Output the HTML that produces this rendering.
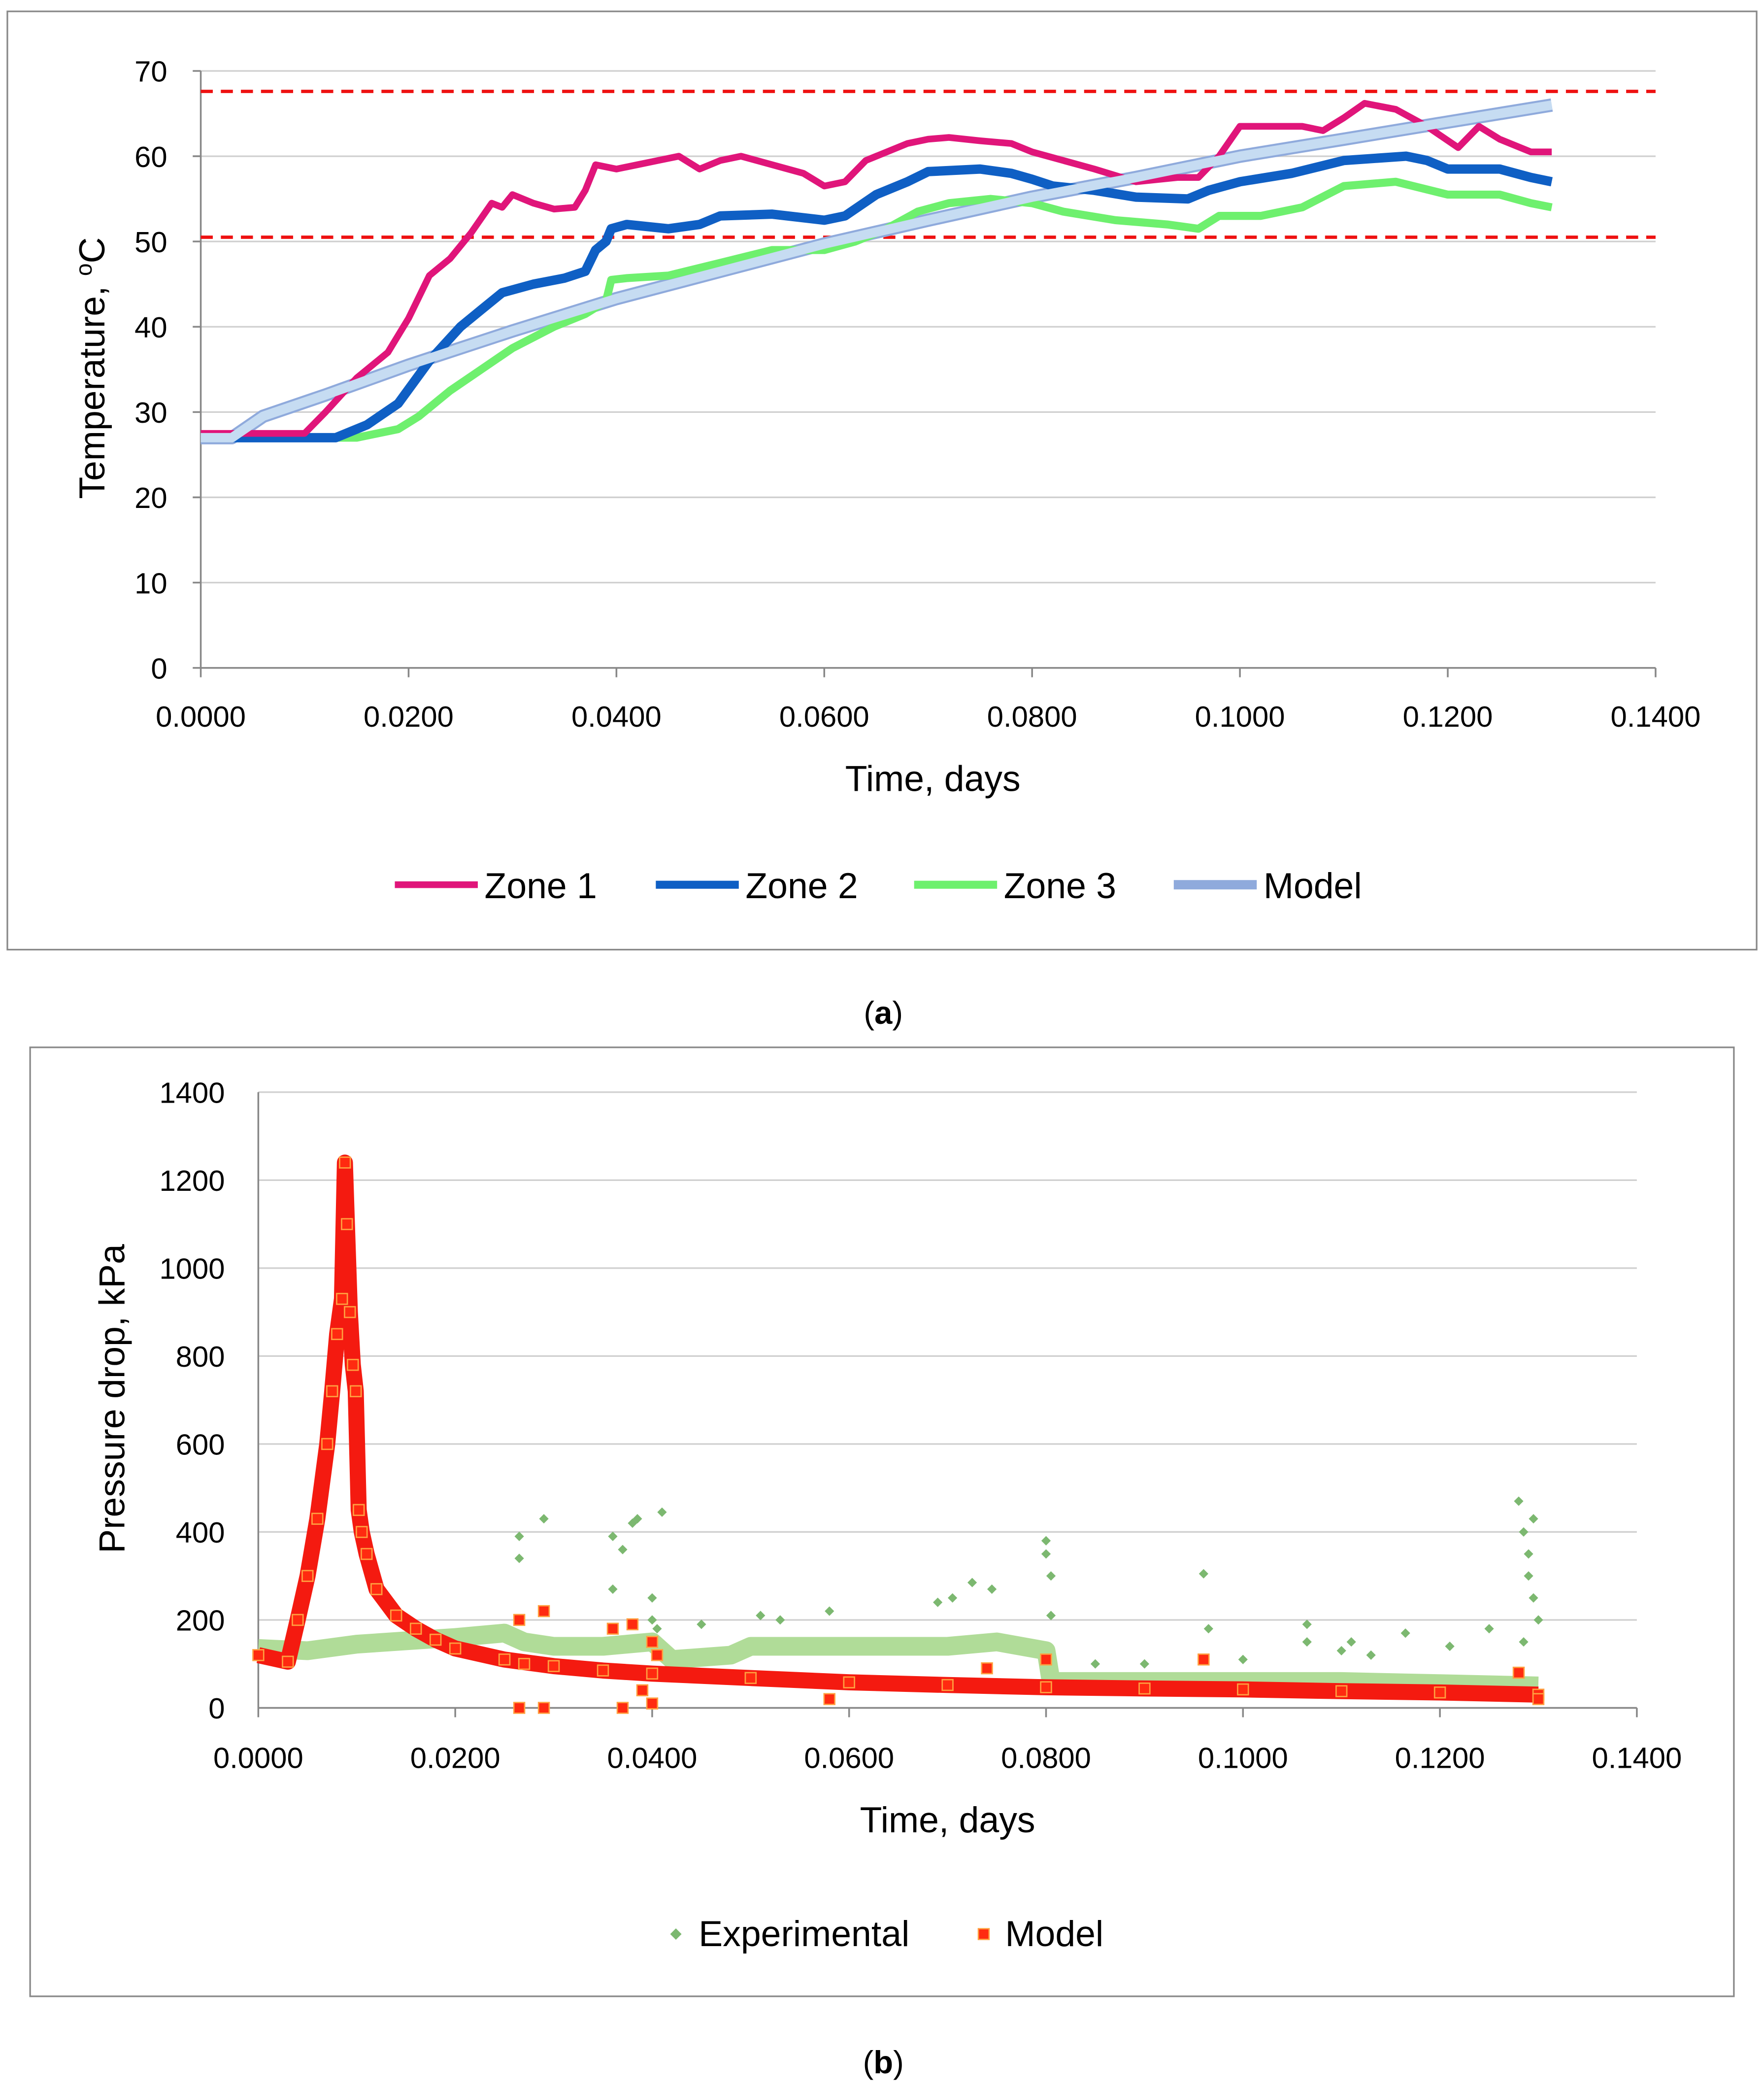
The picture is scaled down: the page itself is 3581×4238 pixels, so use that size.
<!DOCTYPE html>
<html><head><meta charset="utf-8"><style>
html,body{margin:0;padding:0;background:#fff;}
svg{display:block;}
text{font-family:"Liberation Sans",sans-serif;fill:#000;}
</style></head><body>
<svg id="root" xmlns="http://www.w3.org/2000/svg" width="3581" height="4238" viewBox="0 0 1318 1560" preserveAspectRatio="none">
<rect x="0" y="0" width="1318" height="1560" fill="#fff"/>
<g id="chartA">
<rect x="5.5" y="8.5" width="1307" height="701" fill="none" stroke="#888" stroke-width="1.2"/>
</g>
<g id="chartB">
<rect x="22.5" y="782.5" width="1273" height="709" fill="none" stroke="#888" stroke-width="1.2"/>
</g>
<text x="660" y="765" font-size="24" text-anchor="middle" font-family="Liberation Serif">(<tspan font-weight="bold">a</tspan>)</text>
<text x="660" y="1549" font-size="24" text-anchor="middle" font-family="Liberation Serif">(<tspan font-weight="bold">b</tspan>)</text>
</svg>
<script>
// ---- Chart A data ----
const xTicksA = [0,0.02,0.04,0.06,0.08,0.10,0.12,0.14];
const yTicksA = [0,10,20,30,40,50,60,70];
const limitLines = [67.6, 50.5];
const zone1T = [0,0.010,0.012,0.015,0.018,0.020,0.022,0.024,0.026,0.028,0.029,0.030,0.032,0.034,0.036,0.037,0.038,0.040,0.042,0.044,0.046,0.048,0.050,0.052,0.055,0.058,0.060,0.062,0.064,0.068,0.070,0.072,0.075,0.078,0.080,0.083,0.086,0.090,0.094,0.096,0.098,0.100,0.104,0.106,0.108,0.110,0.112,0.115,0.118,0.121,0.123,0.125,0.128,0.130];
const zone1V = [27.5,27.5,30,34,37,41,46,48,51,54.5,54,55.5,54.5,53.8,54,56,59,58.5,59,59.5,60,58.5,59.5,60,59,58,56.5,57,59.5,61.5,62,62.2,61.8,61.5,60.5,59.5,58.5,57,57.5,57.5,60,63.5,63.5,63.5,63,64.5,66.2,65.5,63.5,61,63.5,62,60.5,60.5];
const zone2T = [0,0.013,0.016,0.019,0.022,0.025,0.027,0.029,0.032,0.035,0.037,0.038,0.039,0.0395,0.041,0.045,0.048,0.050,0.055,0.060,0.062,0.065,0.068,0.070,0.075,0.078,0.080,0.082,0.086,0.090,0.095,0.097,0.100,0.105,0.110,0.116,0.118,0.120,0.125,0.128,0.130];
const zone2V = [27,27,28.5,31,36,40,42,44,45,45.7,46.5,49,50,51.5,52,51.5,52,53,53.2,52.5,53,55.5,57,58.2,58.5,58,57.3,56.5,56,55.2,55,56,57,58,59.5,60,59.5,58.5,58.5,57.5,57];
const zone3T = [0,0.015,0.019,0.021,0.024,0.027,0.030,0.034,0.037,0.039,0.0395,0.041,0.045,0.050,0.055,0.060,0.063,0.066,0.069,0.072,0.076,0.080,0.083,0.088,0.093,0.096,0.098,0.102,0.106,0.110,0.115,0.120,0.125,0.128,0.130];
const zone3V = [27,27,28,29.5,32.5,35,37.5,40,41.5,43,45.5,45.7,46,47.5,49,49,50,51.5,53.5,54.5,55,54.5,53.5,52.5,52,51.5,53,53,54,56.5,57,55.5,55.5,54.5,54];
const modelAT = [0,0.003,0.006,0.012,0.020,0.030,0.040,0.050,0.060,0.070,0.080,0.090,0.100,0.110,0.120,0.130];
const modelAV = [27,27,29.5,32,35.5,39.5,43.3,46.5,49.7,52.5,55.2,57.5,60,62,64,66];

// ---- Chart B data ----
const xTicksB = [0,0.02,0.04,0.06,0.08,0.10,0.12,0.14];
const yTicksB = [0,200,400,600,800,1000,1200,1400];
const expBandT = [0,0.005,0.010,0.020,0.025,0.027,0.030,0.035,0.040,0.042,0.048,0.050,0.060,0.070,0.075,0.080,0.0805,0.090,0.100,0.110,0.120,0.130];
const expBandV = [135,130,145,160,170,150,140,140,150,110,120,140,140,140,150,130,60,60,60,60,55,50];
const expOutT = [0.0265,0.0265,0.029,0.036,0.037,0.038,0.0385,0.041,0.040,0.036,0.0725,0.0745,0.069,0.0705,0.080,0.080,0.0805,0.0805,0.096,0.0965,0.1065,0.1065,0.111,0.1165,0.125,0.128,0.1285,0.129,0.1295,0.129,0.1295,0.130,0.1285,0.058,0.051,0.045,0.053,0.100,0.090,0.085,0.110,0.113,0.121,0.040,0.0405];
const expOutV = [390,340,430,390,360,420,430,445,250,270,285,270,240,250,380,350,300,210,305,180,190,150,150,170,180,470,400,350,430,300,250,200,150,220,210,190,200,110,100,100,130,120,140,200,180];
const modelBT = [0,0.003,0.004,0.005,0.006,0.007,0.0075,0.008,0.0085,0.0088,0.009,0.0093,0.0096,0.0099,0.0102,0.0105,0.011,0.012,0.014,0.016,0.018,0.020,0.025,0.030,0.035,0.040,0.050,0.060,0.070,0.080,0.090,0.100,0.110,0.120,0.130];
const modelBV = [120,105,200,300,430,600,720,850,930,1240,1100,900,780,720,450,400,350,270,210,180,155,135,110,95,85,78,68,58,52,47,44,42,38,35,30];
const modelOutT = [0.0265,0.0265,0.027,0.029,0.029,0.036,0.037,0.038,0.039,0.040,0.040,0.0405,0.058,0.074,0.080,0.096,0.128,0.130];
const modelOutV = [0,200,100,0,220,180,0,190,40,10,150,120,20,90,110,110,80,20];

const NS = "http://www.w3.org/2000/svg";
function mk(parent, tag, attrs){const e=document.createElementNS(NS,tag);for(const k in attrs)e.setAttribute(k,attrs[k]);parent.appendChild(e);return e;}

// ---- Draw chart A ----
(function(){
  const g=document.getElementById('chartA');
  const X=t=>150+t/0.14*(1237-150);
  const Y=v=>499-v/70*(499-53);
  yTicksA.forEach(v=>{
    const l=mk(g,'line',{x1:150,x2:1237,y1:Y(v),y2:Y(v),stroke:'#d0d0d0','stroke-width':1.2});
    
    
    const t=mk(g,'text',{x:125,y:Y(v)+8,'font-size':22,'text-anchor':'end'});t.textContent=v;
    
    
  });
  const ax=mk(g,'line',{x1:150,x2:1237,y1:499,y2:499,stroke:'#888','stroke-width':1.3});
  
  
  const ay=mk(g,'line',{x1:150,x2:150,y1:53,y2:499,stroke:'#888','stroke-width':1.3});
  
  
  xTicksA.forEach(t=>{
    const tk=mk(g,'line',{x1:X(t),x2:X(t),y1:499,y2:506,stroke:'#888','stroke-width':1.3});
    
    
    const s=mk(g,'text',{x:X(t),y:543,'font-size':22,'text-anchor':'middle'});s.textContent=t.toFixed(4);
    
    
  });
  for(let v=0;v<=70;v+=10){const tk=mk(g,'line',{x1:144,x2:150,y1:Y(v),y2:Y(v),stroke:'#888','stroke-width':1.3});}
  limitLines.forEach(v=>{
    const l=mk(g,'line',{x1:150,x2:1237,y1:Y(v),y2:Y(v),stroke:'#ee1111','stroke-width':2.5,'stroke-dasharray':'9 6'});
    
    
  });
  function path(T,V){return T.map((t,i)=>(i?'L':'M')+X(t).toFixed(1)+','+Y(V[i]).toFixed(1)).join(' ');}
  const mo=mk(g,'path',{d:path(modelAT,modelAV),fill:'none',stroke:'#8faadc','stroke-width':10,'stroke-linejoin':'round'});
  
  
  const s3=mk(g,'path',{d:path(zone3T,zone3V),fill:'none',stroke:'#6ef06e','stroke-width':6,'stroke-linejoin':'round'});
  
  
  const s2=mk(g,'path',{d:path(zone2T,zone2V),fill:'none',stroke:'#0f5fc4','stroke-width':7,'stroke-linejoin':'round'});
  
  
  const s1=mk(g,'path',{d:path(zone1T,zone1V),fill:'none',stroke:'#e0157a','stroke-width':5,'stroke-linejoin':'round'});
  
  
  const mi=mk(g,'path',{d:path(modelAT,modelAV),fill:'none',stroke:'#c6dcf2','stroke-width':7,'stroke-linejoin':'round'});
  
  
  const xt=mk(g,'text',{x:697,y:591,'font-size':27,'text-anchor':'middle'});xt.textContent='Time, days';
  
  
  const yt=mk(g,'text',{x:0,y:0,'font-size':27,'text-anchor':'middle',transform:'translate(78,275) rotate(-90)'});
  yt.innerHTML='Temperature, <tspan baseline-shift="super" font-size="17">o</tspan>C';
  
  
  const leg=[['Zone 1','#e0157a',295,5],['Zone 2','#0f5fc4',490,6],['Zone 3','#6ef06e',683,6],['Model','#8faadc',877,7]];
  leg.forEach(([n,c,x,w])=>{
    const l=mk(g,'line',{x1:x,x2:x+62,y1:661,y2:661,stroke:c,'stroke-width':w});
    
    
    const t=mk(g,'text',{x:x+67,y:671,'font-size':27});t.textContent=n;
    
    
  });
})();

// ---- Draw chart B ----
(function(){
  const g=document.getElementById('chartB');
  const X=t=>193+t/0.14*(1223-193);
  const Y=v=>1276-v/1400*(1276-816);
  yTicksB.forEach(v=>{
    const l=mk(g,'line',{x1:193,x2:1223,y1:Y(v),y2:Y(v),stroke:'#d0d0d0','stroke-width':1.2});
    
    
    const t=mk(g,'text',{x:168,y:Y(v)+8,'font-size':22,'text-anchor':'end'});t.textContent=v;
    
    
  });
  const ax=mk(g,'line',{x1:193,x2:1223,y1:1276,y2:1276,stroke:'#888','stroke-width':1.3});
  
  
  const ay=mk(g,'line',{x1:193,x2:193,y1:816,y2:1276,stroke:'#888','stroke-width':1.3});
  
  
  xTicksB.forEach(t=>{
    const tk=mk(g,'line',{x1:X(t),x2:X(t),y1:1276,y2:1283,stroke:'#888','stroke-width':1.3});
    
    
    const s=mk(g,'text',{x:X(t),y:1321,'font-size':22,'text-anchor':'middle'});s.textContent=t.toFixed(4);
    
    
  });
  function path(T,V){return T.map((t,i)=>(i?'L':'M')+X(t).toFixed(1)+','+Y(V[i]).toFixed(1)).join(' ');}
  const band=mk(g,'path',{d:path(expBandT,expBandV),fill:'none',stroke:'#b0dc98','stroke-width':14,'stroke-linejoin':'round'});
  
  
  expOutT.forEach((t,i)=>{
    const p=mk(g,'rect',{x:X(t)-2.5,y:Y(expOutV[i])-2.5,width:5,height:5,fill:'#7cb870',transform:`rotate(45 ${X(t)} ${Y(expOutV[i])})`});
    
    
  });
  const ml=mk(g,'path',{d:path(modelBT,modelBV),fill:'none',stroke:'#f41a10','stroke-width':12,'stroke-linejoin':'round'});
  
  
  modelBT.forEach((t,i)=>{
    const p=mk(g,'rect',{x:X(t)-4,y:Y(modelBV[i])-4,width:8,height:8,fill:'#ff2a10',stroke:'#ffa040','stroke-width':1});
    
    
  });
  modelOutT.forEach((t,i)=>{
    const p=mk(g,'rect',{x:X(t)-4,y:Y(modelOutV[i])-4,width:8,height:8,fill:'#ff2a10',stroke:'#ffa040','stroke-width':1});
    
    
  });
  const xt=mk(g,'text',{x:708,y:1369,'font-size':27,'text-anchor':'middle'});xt.textContent='Time, days';
  
  
  const yt=mk(g,'text',{x:0,y:0,'font-size':27,'text-anchor':'middle',transform:'translate(93,1045) rotate(-90)'});yt.textContent='Pressure drop, kPa';
  
  
  const m1=mk(g,'rect',{x:502,y:1442,width:6,height:6,fill:'#7cb870',transform:'rotate(45 505 1445)'});
  
  
  const t1=mk(g,'text',{x:522,y:1454,'font-size':27});t1.textContent='Experimental';
  
  
  const m2=mk(g,'rect',{x:731,y:1441,width:8,height:8,fill:'#ff2a10',stroke:'#ffa040','stroke-width':1});
  
  
  const t2=mk(g,'text',{x:751,y:1454,'font-size':27});t2.textContent='Model';
  
  
})();
</script>
</body></html>
